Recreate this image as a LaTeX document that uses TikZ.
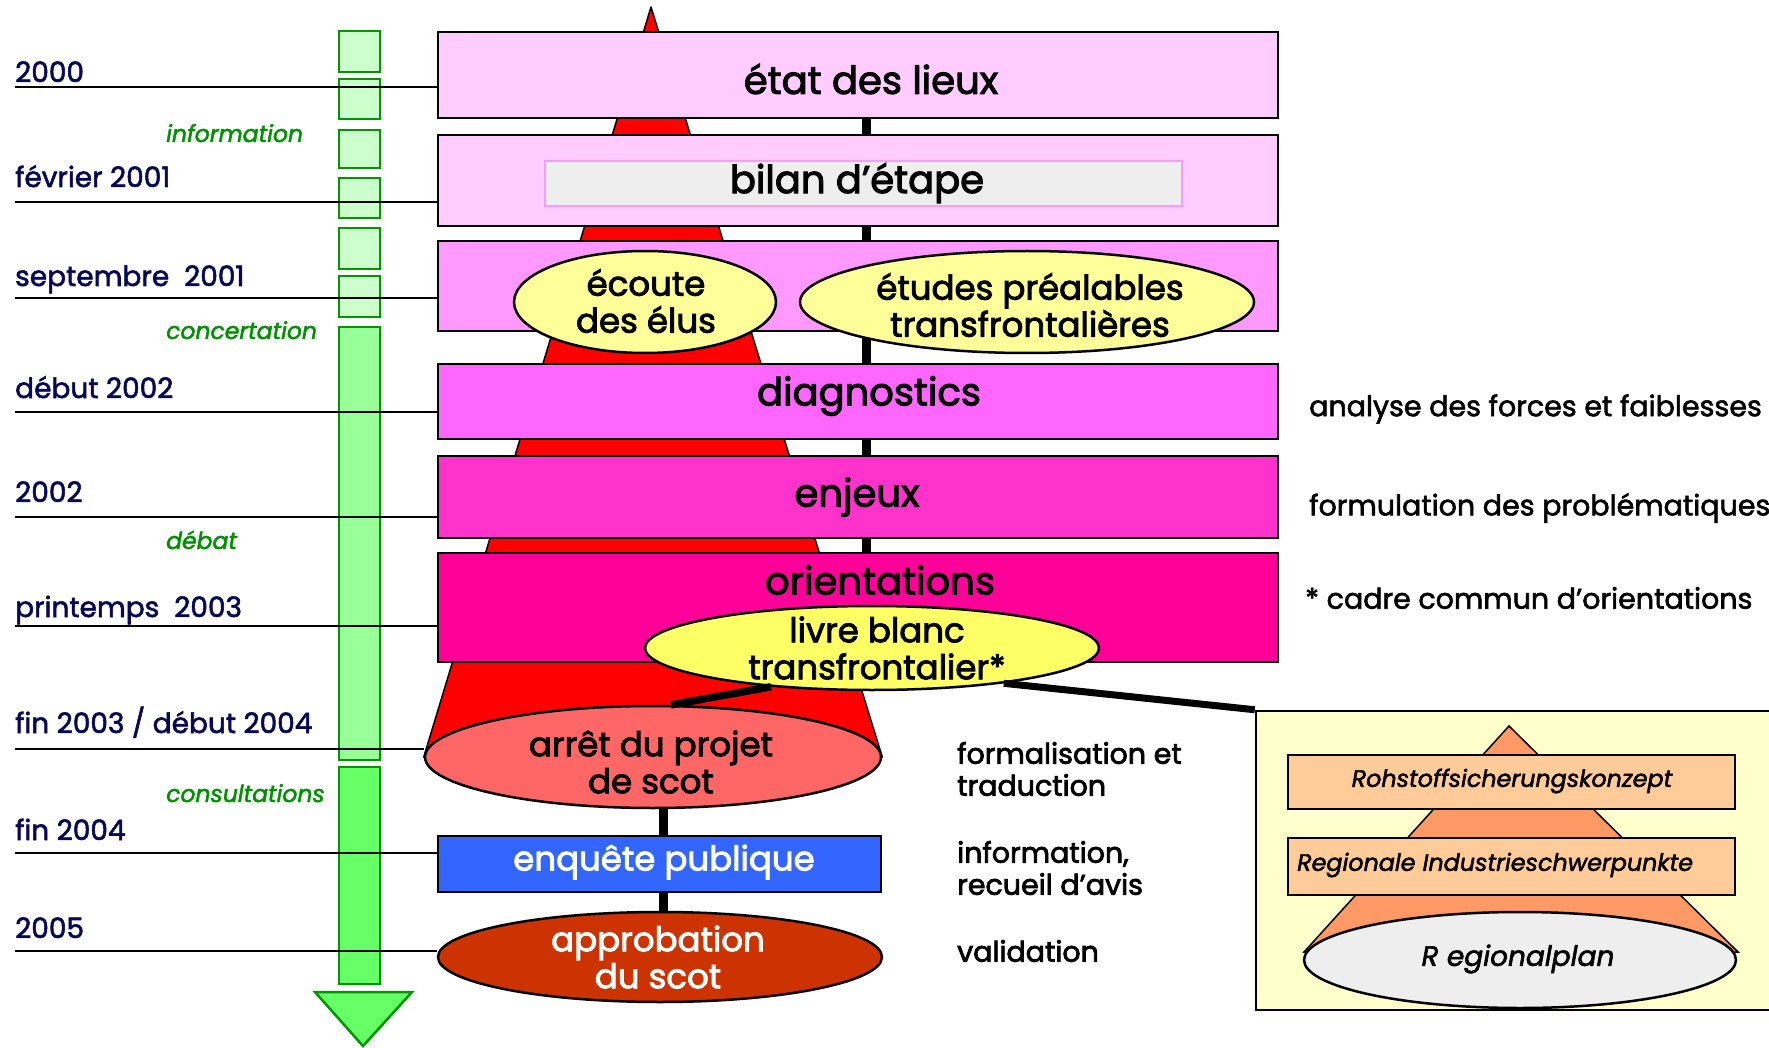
\documentclass[tikz,border=0pt]{standalone}
\usepackage{fontspec}
\setmainfont{Poppins}[FakeBold=2]
\newfontfamily\lblfont{Poppins}[FakeBold=2.6]
\usetikzlibrary{shapes.geometric,backgrounds}
\definecolor{navy}{RGB}{8,8,85}
\definecolor{gtext}{RGB}{0,145,0}
\definecolor{gborder}{RGB}{0,150,0}
\definecolor{gA}{HTML}{CCFFCC}
\definecolor{gB}{HTML}{99FF99}
\definecolor{gC}{HTML}{66FF66}
\definecolor{pA}{HTML}{FFCCFF}
\definecolor{pB}{HTML}{FF99FF}
\definecolor{pC}{HTML}{FF66FF}
\definecolor{pD}{HTML}{FF33CC}
\definecolor{pE}{HTML}{FF0099}
\definecolor{yA}{HTML}{FFFF99}
\definecolor{yB}{HTML}{FFFF66}
\definecolor{blueE}{HTML}{3366FF}
\definecolor{salmon}{HTML}{FF6666}
\definecolor{rust}{HTML}{CC3300}
\definecolor{cream}{HTML}{FFFFCC}
\definecolor{orA}{HTML}{FF9966}
\definecolor{orB}{HTML}{FFCC99}
\definecolor{grayE}{HTML}{EEEEEE}
\begin{document}
\begin{tikzpicture}[x=1pt,y=-1pt,
  stagebox/.style={draw=black, line width=2.5, rectangle, inner sep=0, minimum width=840},
  oval/.style={draw=black, line width=2.5, ellipse, inner sep=0},
  gbox/.style={draw=gborder, line width=2.5, rectangle, inner sep=0, minimum width=41},
  dateline/.style={line width=2.5, black},
  datelbl/.style={anchor=base west, text=navy, font=\fontsize{28}{30}\selectfont, inner sep=0},
  phase/.style={anchor=base west, text=gtext, font=\fontsize{23.5}{26}\selectfont\itshape, inner sep=0},
  boxlbl/.style={font=\lblfont\fontsize{38.5}{40}\selectfont, inner sep=0, align=center},
  ovallbl/.style={font=\lblfont\fontsize{34}{37}\selectfont, inner sep=0, align=center},
  midlbl/.style={anchor=west, font=\lblfont\fontsize{28.5}{32}\selectfont, inner sep=0, align=left},
  rightlbl/.style={anchor=west, font=\fontsize{28.5}{30}\selectfont, inner sep=0},
  panellbl/.style={font=\fontsize{23.8}{26}\selectfont\itshape, inner sep=0},
  spine/.style={line width=9, black},
  thick link/.style={line width=7.5, black}
]
\useasboundingbox (0,0) rectangle (1769,1048);

% ---------- green time column ----------
\node[gbox, fill=gA, minimum height=41] (g1) at (359.5,51.5) {};
\node[gbox, fill=gA, minimum height=40] (g2) at (359.5,99) {};
\node[gbox, fill=gA, minimum height=38] (g3) at (359.5,149) {};
\node[gbox, fill=gA, minimum height=40] (g4) at (359.5,198) {};
\node[gbox, fill=gA, minimum height=41] (g5) at (359.5,248.5) {};
\node[gbox, fill=gA, minimum height=41] (g6) at (359.5,296.5) {};
\node[gbox, fill=gB, minimum height=433] (g7) at (359.5,543.5) {};
\node[gbox, fill=gC, minimum height=217] (g8) at (359.5,875.5) {};
\coordinate (arL) at (315,992);
\coordinate (arR) at (412,992);
\coordinate (arT) at (363,1046);
\draw[gborder, fill=gC, line width=2.5, line join=miter] (arL) -- (arR) -- (arT) -- cycle;

% ---------- stage boxes ----------
\node[stagebox, fill=pA, minimum height=86] (etat) at (858,75) {};
\node[stagebox, fill=pA, minimum height=91] (bilan) at (858,180.5) {};
\node[draw=pB, line width=2, fill=grayE, inner sep=0, minimum width=637, minimum height=45] (bilanin) at (863.5,183.5) {};
\node[stagebox, fill=pB, minimum height=90] (consult) at (858,286) {};
\node[stagebox, fill=pC, minimum height=75] (diag) at (858,401.5) {};
\node[stagebox, fill=pD, minimum height=82] (enjeux) at (858,497) {};
\node[stagebox, fill=pE, minimum height=109] (orient) at (858,607.5) {};
\node[draw=black, line width=2.5, fill=blueE, inner sep=0, minimum width=443, minimum height=56] (enquete) at (659.5,864) {};

% ---------- ellipses ----------
\node[oval, fill=yA, minimum width=262, minimum height=102] (ecoute) at (645,302) {};
\node[oval, fill=yA, minimum width=454, minimum height=102] (etudes) at (1027,302) {};
\node[oval, fill=yB, minimum width=454, minimum height=84] (livre) at (872,648) {};
\node[oval, fill=salmon, minimum width=456, minimum height=102] (arret) at (653,757) {};
\node[oval, fill=rust, minimum width=444, minimum height=90] (appro) at (660,957) {};

% ---------- background: page, cone, spine, links ----------
\begin{pgfonlayer}{background}
  \fill[white] (0,0) rectangle (1769,1048);
  \coordinate (apex) at (651,7);
  \draw[fill=red, line width=1.5, line join=round] (apex) -- (arret.west) -- (arret.east) -- cycle;
  \coordinate (sx) at (866,0);
  \draw[spine] (sx |- etat.south) -- (sx |- orient.north);
  \draw[spine] (enquete.north -| 663,0) -- (arret.south -| 663,0);
  \draw[spine] (enquete.south -| 663,0) -- (appro.north -| 663,0);
\end{pgfonlayer}

% ---------- date labels and lines ----------
\node[datelbl] (d1) at (15,82) {2000};
\node[datelbl] (d2) at (15,187) {février 2001};
\node[datelbl] (d3) at (15,286) {septembre\ \ 2001};
\node[datelbl] (d4) at (15,398) {début 2002};
\node[datelbl] (d5) at (15,502) {2002};
\node[datelbl] (d6) at (15,617) {printemps\ \ 2003};
\node[datelbl] (d7) at (15,733) {fin 2003 / début 2004};
\node[datelbl] (d8) at (15,840) {fin 2004};
\node[datelbl] (d9) at (15,938) {2005};
\coordinate (l1) at (15,87);
\coordinate (l2) at (15,202);
\coordinate (l3) at (15,298);
\coordinate (l4) at (15,412);
\coordinate (l5) at (15,517);
\coordinate (l6) at (15,626);
\coordinate (l7) at (15,749);
\coordinate (l8) at (15,853);
\coordinate (l9) at (15,951);
\draw[dateline] (l1) -- (l1 -| etat.west);
\draw[dateline] (l2) -- (l2 -| bilan.west);
\draw[dateline] (l3) -- (l3 -| consult.west);
\draw[dateline] (l4) -- (l4 -| diag.west);
\draw[dateline] (l5) -- (l5 -| enjeux.west);
\draw[dateline] (l6) -- (l6 -| orient.west);
\draw[dateline] (l7) -- (l7 -| arret.west);
\draw[dateline] (l8) -- (l8 -| enquete.west);
\draw[dateline] (l9) -- (l9 -| appro.west);

\node[phase] (p1) at (166,142) {information};
\node[phase] (p2) at (166,339) {concertation};
\node[phase] (p3) at (166,549) {débat};
\node[phase] (p4) at (166,802) {consultations};

% ---------- labels of stages ----------
\node[boxlbl] (etat-t) at (871,79) {état des lieux};
\node[boxlbl] (bilan-t) at (857,183) {bilan d’étape};
\node[boxlbl] (diag-t) at (869,396) {diagnostics};
\node[boxlbl] (enjeux-t) at (857,497) {enjeux};
\node[boxlbl] (orient-t) at (880,580) {orientations};
\node[ovallbl] (ecoute-t) at (646,301) {écoute\\des élus};
\node[ovallbl] (etudes-t) at (1030,305) {études préalables\\transfrontalières};
\node[ovallbl] (livre-t) at (877,648) {livre blanc\\transfrontalier*};
\node[ovallbl] (arret-t) at (651,762) {arrêt du projet\\de scot};
\node[ovallbl, text=white] (enquete-t) at (664,862) {enquête publique};
\node[ovallbl, text=white] (appro-t) at (658,957) {approbation\\du scot};

% ---------- links from the white paper ----------
\draw[thick link] (livre.201) -- (arret.71);

% ---------- side texts ----------
\node[midlbl] (m1) at (957,769) {formalisation et\\traduction};
\node[midlbl] (m2) at (957,868) {information,\\recueil d’avis};
\node[midlbl] (m3) at (957,951) {validation};
\node[rightlbl] (r1) at (1309,409) {analyse des forces et faiblesses};
\node[rightlbl] (r2) at (1309,508) {formulation des problématiques};
\node[rightlbl] (r3) at (1305,598) {* cadre commun d’orientations};

% ---------- Regionalplan panel ----------
\node[draw=black, line width=2.5, fill=cream, inner sep=0, minimum width=520, minimum height=299] (panel) at (1516,860.5) {};
\draw[line width=7, black] (livre.345) -- (panel.north west);
\coordinate (tA) at (1509,726);
\coordinate (tL) at (1304,952);
\coordinate (tR) at (1738,952);
\draw[fill=orA, line width=1.5] (tA) -- (tL) -- (tR) -- cycle;
\node[draw=black, line width=2.5, fill=orB, inner sep=0, minimum width=447, minimum height=54] (rohs) at (1511.5,782) {};
\node[draw=black, line width=2.5, fill=orB, inner sep=0, minimum width=447, minimum height=57] (indus) at (1511.5,866.5) {};
\node[oval, fill=grayE, minimum width=432, minimum height=96] (rplan) at (1520,960) {};
\node[panellbl] (rohs-t) at (1512,781) {Rohstoffsicherungskonzept};
\node[panellbl, anchor=west] (indus-t) at (1297,865) {Regionale Industrieschwerpunkte};
\node[panellbl, font=\fontsize{28}{30}\selectfont\itshape] (rplan-t) at (1518,959) {R egionalplan};
\end{tikzpicture}
\end{document}
